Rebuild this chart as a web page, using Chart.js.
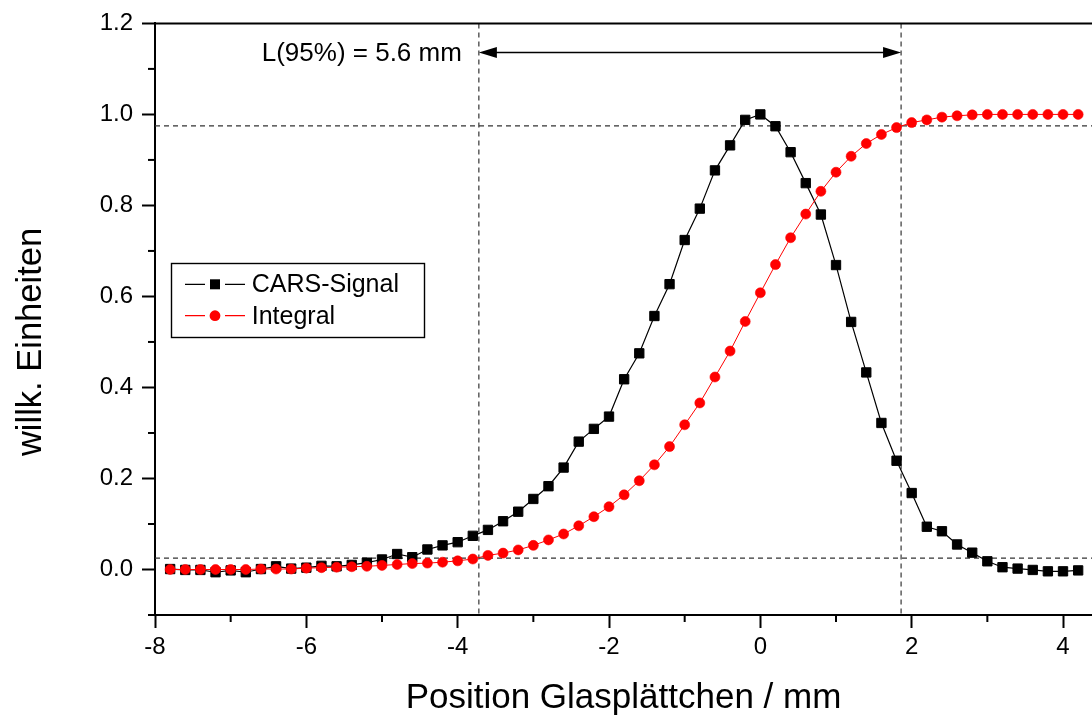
<!DOCTYPE html>
<html><head><meta charset="utf-8">
<script src="https://cdn.jsdelivr.net/npm/chart.js@4.4.1/dist/chart.umd.min.js"></script>
<style>html,body{margin:0;padding:0;background:#fff;overflow:hidden}canvas{display:block}</style>
</head><body><canvas id="c" width="1092" height="718" style="width:1092px;height:718px"></canvas>
<script>
const positions = [-7.8,-7.6,-7.4,-7.2,-7.0,-6.8,-6.6,-6.4,-6.2,-6.0,-5.8,-5.6,-5.4,-5.2,-5.0,-4.8,-4.6,-4.4,-4.2,-4.0,
  -3.8,-3.6,-3.4,-3.2,-3.0,-2.8,-2.6,-2.4,-2.2,-2.0,-1.8,-1.6,-1.4,-1.2,-1.0,-0.8,-0.6,-0.4,-0.2,
  0.0,0.2,0.4,0.6,0.8,1.0,1.2,1.4,1.6,1.8,2.0,2.2,2.4,2.6,2.8,3.0,3.2,3.4,3.6,3.8,4.0,4.2];
const carsSignal = [0.001,-0.001,-0.001,-0.006,-0.002,-0.006,0.001,0.007,0.002,0.004,0.008,0.007,0.010,0.015,0.022,0.034,0.027,0.044,0.053,0.060,
  0.074,0.087,0.106,0.127,0.155,0.183,0.224,0.281,0.309,0.336,0.418,0.475,0.557,0.627,0.724,0.793,0.877,0.932,0.988,
  1.000,0.974,0.917,0.849,0.780,0.669,0.544,0.433,0.322,0.239,0.168,0.094,0.084,0.055,0.037,0.018,0.005,0.002,-0.001,-0.004,-0.004,-0.002];
const integral = [0,0,0,0,0,0,0.001,0.001,0.001,0.003,0.004,0.005,0.006,0.007,0.009,0.011,0.013,0.014,0.016,0.019,
  0.023,0.031,0.036,0.043,0.053,0.065,0.078,0.096,0.116,0.138,0.164,0.195,0.230,0.270,0.318,0.366,0.423,0.480,0.545,
  0.608,0.670,0.729,0.781,0.831,0.873,0.908,0.936,0.956,0.971,0.982,0.988,0.994,0.997,0.999,1.000,1.000,1.000,1.000,1.000,1.000,1.000];
const xTickLabels = ['-8','-6','-4','-2','0','2','4'];
const yTickLabels = ['0.0','0.2','0.4','0.6','0.8','1.0','1.2'];
const seriesNames = ['CARS-Signal','Integral'];
const guideY = [0.025, 0.975];
const guideX = [-3.72, 1.86];
const arrowLevel = 1.136;
const lengthLabel = 'L(95%) = 5.6 mm';
const xTitle = 'Position Glasplättchen / mm';
const yTitle = 'willk. Einheiten';

const FONT = "'Liberation Sans', Arial, Helvetica, sans-serif";
Chart.defaults.font.family = FONT;

function labelX(v){ const s = String(Math.round(v*1000)/1000 + 0); return xTickLabels.includes(s) ? s : ''; }
function labelY(v){ const s = (Math.round(v*10)/10 + 0).toFixed(1); return yTickLabels.includes(s) ? s : ''; }

const overlay = {
  id: 'overlay',
  beforeDatasetsDraw(chart) {
    const {ctx, chartArea: a, scales: {x, y}} = chart;
    ctx.save();
    ctx.beginPath(); ctx.rect(a.left, a.top, a.right - a.left, a.bottom - a.top); ctx.clip();
    ctx.setLineDash([5, 4]); ctx.strokeStyle = '#333'; ctx.lineWidth = 1.2;
    guideY.forEach(v => { const p = y.getPixelForValue(v); ctx.beginPath(); ctx.moveTo(a.left, p); ctx.lineTo(a.right, p); ctx.stroke(); });
    guideX.forEach(v => { const p = x.getPixelForValue(v); ctx.beginPath(); ctx.moveTo(p, a.top); ctx.lineTo(p, a.bottom); ctx.stroke(); });
    ctx.restore();
  },
  afterDraw(chart) {
    const {ctx, chartArea: a, scales: {x, y}} = chart;
    ctx.save();
    ctx.strokeStyle = '#000'; ctx.fillStyle = '#000';
    ctx.lineWidth = 2;
    ctx.beginPath(); ctx.moveTo(a.left - 1, a.top); ctx.lineTo(a.right, a.top); ctx.stroke();
    x.ticks.forEach(t => { if (labelX(t.value) === '') { const p = x.getPixelForValue(t.value); ctx.beginPath(); ctx.moveTo(p, a.bottom); ctx.lineTo(p, a.bottom + 7); ctx.stroke(); } });
    y.ticks.forEach(t => { if (labelY(t.value) === '') { const p = y.getPixelForValue(t.value); ctx.beginPath(); ctx.moveTo(a.left - 7, p); ctx.lineTo(a.left, p); ctx.stroke(); } });
    const x1 = x.getPixelForValue(guideX[0]), x2 = x.getPixelForValue(guideX[1]), ay = y.getPixelForValue(arrowLevel);
    const hl = 18, hw = 5.5;
    ctx.lineWidth = 1.7;
    ctx.beginPath(); ctx.moveTo(x1 + hl - 2, ay); ctx.lineTo(x2 - hl + 2, ay); ctx.stroke();
    ctx.beginPath(); ctx.moveTo(x1, ay); ctx.lineTo(x1 + hl, ay - hw); ctx.lineTo(x1 + hl, ay + hw); ctx.closePath(); ctx.fill();
    ctx.beginPath(); ctx.moveTo(x2, ay); ctx.lineTo(x2 - hl, ay - hw); ctx.lineTo(x2 - hl, ay + hw); ctx.closePath(); ctx.fill();
    ctx.font = '26px ' + FONT; ctx.textAlign = 'right'; ctx.textBaseline = 'middle';
    ctx.fillText(lengthLabel, x1 - 17, ay + 1.5);
    const lx = 171.5, ly = 263.5, lw = 253, lh = 74;
    ctx.lineWidth = 1.4; ctx.strokeRect(lx, ly, lw, lh);
    const ds = chart.data.datasets;
    const rows = [284.3, 315.7];
    ds.forEach((d, i) => {
      const ry = rows[i];
      ctx.strokeStyle = d.borderColor; ctx.fillStyle = d.borderColor; ctx.lineWidth = 1.2;
      ctx.beginPath(); ctx.moveTo(185, ry); ctx.lineTo(205, ry); ctx.moveTo(225, ry); ctx.lineTo(245, ry); ctx.stroke();
      if (d.pointStyle === 'rect') { ctx.fillRect(210, ry - 5, 10, 10); }
      else { ctx.beginPath(); ctx.arc(215, ry, 5.4, 0, Math.PI * 2); ctx.fill(); }
      ctx.fillStyle = '#000'; ctx.font = '25px ' + FONT; ctx.textAlign = 'left'; ctx.textBaseline = 'middle';
      ctx.fillText(d.label, 251.7, ry + 1);
    });
    ctx.translate(31.5, 342); ctx.rotate(-Math.PI / 2);
    ctx.fillStyle = '#000'; ctx.font = '34.5px ' + FONT; ctx.textAlign = 'center'; ctx.textBaseline = 'middle';
    ctx.fillText(yTitle, 0, 0);
    ctx.restore();
  }
};

new Chart(document.getElementById('c'), {
  type: 'line',
  data: { datasets: [
    { label: seriesNames[0], data: positions.map((p, i) => ({x: p, y: carsSignal[i]})),
      borderColor: '#000000', backgroundColor: '#000000', borderWidth: 1.2, tension: 0,
      pointStyle: 'rect', pointRadius: 6.6, pointBorderWidth: 1, pointBorderColor: '#000000', pointBackgroundColor: '#000000', order: 1 },
    { label: seriesNames[1], data: positions.map((p, i) => ({x: p, y: integral[i]})),
      borderColor: '#ff0000', backgroundColor: '#ff0000', borderWidth: 1, tension: 0,
      pointStyle: 'circle', pointRadius: 5, pointBorderWidth: 0.6, pointBorderColor: '#ff0000', pointBackgroundColor: '#ff0000', order: 0 }
  ]},
  options: {
    responsive: false, maintainAspectRatio: false, animation: false, events: [], devicePixelRatio: 1,
    layout: { autoPadding: false, padding: { top: 21.7, left: 0, right: 0, bottom: 0 } },
    plugins: { legend: { display: false }, tooltip: { enabled: false } },
    scales: {
      x: {
        type: 'linear', position: 'bottom', min: -8, max: 4.383,
        afterFit: s => { s.height = 103; },
        border: { display: true, color: '#000', width: 2 },
        grid: { drawOnChartArea: false, drawTicks: true, tickLength: 13, tickWidth: 2,
          tickColor: c => (c.tick && labelX(c.tick.value) !== '') ? '#000' : 'rgba(0,0,0,0)' },
        ticks: { stepSize: 1, includeBounds: false, autoSkip: false, maxRotation: 0, padding: 5, color: '#000',
          font: { size: 24 }, callback: v => labelX(v) },
        title: { display: true, text: xTitle, color: '#000', font: { size: 35, lineHeight: 1.1 }, padding: 0 }
      },
      y: {
        type: 'linear', position: 'left', min: -0.1, max: 1.2,
        afterFit: s => { s.width = 155; },
        border: { display: true, color: '#000', width: 2 },
        grid: { drawOnChartArea: false, drawTicks: true, tickLength: 13, tickWidth: 2,
          tickColor: c => (c.tick && labelY(c.tick.value) !== '') ? '#000' : 'rgba(0,0,0,0)' },
        ticks: { stepSize: 0.1, includeBounds: false, autoSkip: false, padding: 9, color: '#000',
          font: { size: 24 }, callback: v => labelY(v) },
        title: { display: false }
      }
    }
  },
  plugins: [overlay]
});
</script>
</body></html>
